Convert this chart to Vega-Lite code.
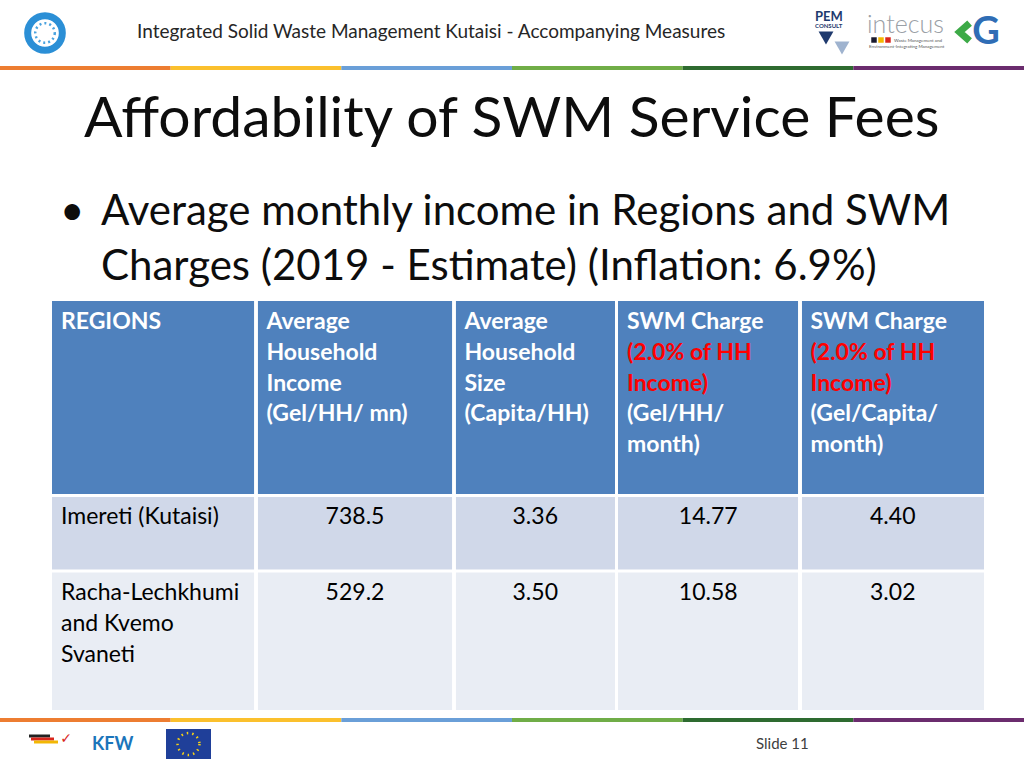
{
  "$schema": "https://vega.github.io/schema/vega-lite/v6.json",
  "width": 1024,
  "height": 768,
  "autosize": {"type": "fit", "contains": "padding"},
  "padding": 0,
  "background": "#ffffff",
  "config": {"view": {"stroke": null}, "text": {"font": "Lato"}},
  "datasets": {
    "header": [
      {"col": 0, "line": 0, "text": "REGIONS", "part": "label"},
      {"col": 1, "line": 0, "text": "Average", "part": "label"},
      {"col": 1, "line": 1, "text": "Household", "part": "label"},
      {"col": 1, "line": 2, "text": "Income", "part": "label"},
      {"col": 1, "line": 3, "text": "(Gel/HH/ mn)", "part": "label"},
      {"col": 2, "line": 0, "text": "Average", "part": "label"},
      {"col": 2, "line": 1, "text": "Household", "part": "label"},
      {"col": 2, "line": 2, "text": "Size", "part": "label"},
      {"col": 2, "line": 3, "text": "(Capita/HH)", "part": "label"},
      {"col": 3, "line": 0, "text": "SWM Charge", "part": "label"},
      {"col": 3, "line": 1, "text": "(2.0% of HH", "part": "rate"},
      {"col": 3, "line": 2, "text": "Income)", "part": "rate"},
      {"col": 3, "line": 3, "text": "(Gel/HH/", "part": "label"},
      {"col": 3, "line": 4, "text": "month)", "part": "label"},
      {"col": 4, "line": 0, "text": "SWM Charge", "part": "label"},
      {"col": 4, "line": 1, "text": "(2.0% of HH", "part": "rate"},
      {"col": 4, "line": 2, "text": "Income)", "part": "rate"},
      {"col": 4, "line": 3, "text": "(Gel/Capita/", "part": "label"},
      {"col": 4, "line": 4, "text": "month)", "part": "label"}
    ],
    "body": [
      {"row": 1, "region": "Imereti (Kutaisi)", "income": 738.5, "size": 3.36, "chargeHH": 14.77, "chargeCap": 4.40},
      {"row": 2, "region": "Racha-Lechkhumi\nand Kvemo\nSvaneti", "income": 529.2, "size": 3.50, "chargeHH": 10.58, "chargeCap": 3.02}
    ],
    "stripes": [{"seg": 1}, {"seg": 2}, {"seg": 3}, {"seg": 4}, {"seg": 5}, {"seg": 6}]
  },
  "resolve": {"scale": {"x": "independent", "y": "independent", "color": "independent", "fill": "independent"}},
  "layer": [
    {
      "data": {"name": "stripes"},
      "layer": [
        {
          "mark": {"type": "bar"},
          "encoding": {
            "x": {"field": "seg", "type": "ordinal", "scale": {"type": "band", "range": [0, 1024], "paddingInner": 0, "paddingOuter": 0}, "axis": null},
            "y": {"datum": 66, "type": "quantitative", "scale": {"type": "linear", "domain": [0, 768], "range": [0, 768], "nice": false, "zero": false}, "axis": null},
            "y2": {"datum": 70},
            "color": {"field": "seg", "type": "ordinal", "scale": {"domain": [1, 2, 3, 4, 5, 6], "range": ["#ED7D31", "#FBC02D", "#6A9FD8", "#70AD47", "#2E6B30", "#6B2C6E"]}, "legend": null}
          }
        },
        {
          "mark": {"type": "bar"},
          "encoding": {
            "x": {"field": "seg", "type": "ordinal", "scale": {"type": "band", "range": [0, 1024], "paddingInner": 0, "paddingOuter": 0}, "axis": null},
            "y": {"datum": 718, "type": "quantitative", "scale": {"type": "linear", "domain": [0, 768], "range": [0, 768], "nice": false, "zero": false}, "axis": null},
            "y2": {"datum": 722},
            "color": {"field": "seg", "type": "ordinal", "scale": {"domain": [1, 2, 3, 4, 5, 6], "range": ["#ED7D31", "#FBC02D", "#6A9FD8", "#70AD47", "#2E6B30", "#6B2C6E"]}, "legend": null}
          }
        }
      ]
    },
    {
      "layer": [
        {
          "data": {"values": [{"t": "Integrated Solid Waste Management Kutaisi - Accompanying Measures"}]},
          "mark": {"type": "text", "align": "left", "baseline": "alphabetic", "fontSize": 19, "color": "#262626"},
          "encoding": {
            "x": {"datum": 137, "type": "quantitative", "scale": {"type": "linear", "domain": [0, 1024], "range": [0, 1024], "nice": false, "zero": false}, "axis": null},
            "y": {"datum": 38, "type": "quantitative", "scale": {"type": "linear", "domain": [0, 768], "range": [0, 768], "nice": false, "zero": false}, "axis": null},
            "text": {"field": "t", "type": "nominal"}
          }
        },
        {
          "data": {"values": [{"t": "Affordability of SWM Service Fees"}]},
          "mark": {"type": "text", "align": "left", "baseline": "alphabetic", "fontSize": 57, "color": "#0d0d0d"},
          "encoding": {
            "x": {"datum": 84, "type": "quantitative", "scale": {"type": "linear", "domain": [0, 1024], "range": [0, 1024], "nice": false, "zero": false}, "axis": null},
            "y": {"datum": 137, "type": "quantitative", "scale": {"type": "linear", "domain": [0, 768], "range": [0, 768], "nice": false, "zero": false}, "axis": null},
            "text": {"field": "t", "type": "nominal"}
          }
        },
        {
          "data": {"values": [{"t": "•"}]},
          "mark": {"type": "text", "align": "left", "baseline": "alphabetic", "fontSize": 42, "color": "#0d0d0d"},
          "encoding": {
            "x": {"datum": 60, "type": "quantitative", "scale": {"type": "linear", "domain": [0, 1024], "range": [0, 1024], "nice": false, "zero": false}, "axis": null},
            "y": {"datum": 225, "type": "quantitative", "scale": {"type": "linear", "domain": [0, 768], "range": [0, 768], "nice": false, "zero": false}, "axis": null},
            "text": {"field": "t", "type": "nominal"}
          }
        },
        {
          "data": {"values": [{"t": "Average monthly income in Regions and SWM"}]},
          "mark": {"type": "text", "align": "left", "baseline": "alphabetic", "fontSize": 42, "color": "#0d0d0d"},
          "encoding": {
            "x": {"datum": 101, "type": "quantitative", "scale": {"type": "linear", "domain": [0, 1024], "range": [0, 1024], "nice": false, "zero": false}, "axis": null},
            "y": {"datum": 225, "type": "quantitative", "scale": {"type": "linear", "domain": [0, 768], "range": [0, 768], "nice": false, "zero": false}, "axis": null},
            "text": {"field": "t", "type": "nominal"}
          }
        },
        {
          "data": {"values": [{"t": "Charges (2019 - Estimate) (Inflation: 6.9%)"}]},
          "mark": {"type": "text", "align": "left", "baseline": "alphabetic", "fontSize": 42, "color": "#0d0d0d"},
          "encoding": {
            "x": {"datum": 101, "type": "quantitative", "scale": {"type": "linear", "domain": [0, 1024], "range": [0, 1024], "nice": false, "zero": false}, "axis": null},
            "y": {"datum": 280, "type": "quantitative", "scale": {"type": "linear", "domain": [0, 768], "range": [0, 768], "nice": false, "zero": false}, "axis": null},
            "text": {"field": "t", "type": "nominal"}
          }
        },
        {
          "data": {"values": [{"t": "Slide 11"}]},
          "mark": {"type": "text", "align": "left", "baseline": "alphabetic", "fontSize": 15, "color": "#404040"},
          "encoding": {
            "x": {"datum": 756, "type": "quantitative", "scale": {"type": "linear", "domain": [0, 1024], "range": [0, 1024], "nice": false, "zero": false}, "axis": null},
            "y": {"datum": 749, "type": "quantitative", "scale": {"type": "linear", "domain": [0, 768], "range": [0, 768], "nice": false, "zero": false}, "axis": null},
            "text": {"field": "t", "type": "nominal"}
          }
        },
        {
          "data": {"values": [{"t": "logo"}]},
          "mark": {"type": "point", "shape": "circle", "filled": false, "size": 1200, "stroke": "#2b8fd6", "strokeWidth": 7, "opacity": 1},
          "encoding": {
            "x": {"datum": 45, "type": "quantitative", "scale": {"type": "linear", "domain": [0, 1024], "range": [0, 1024], "nice": false, "zero": false}, "axis": null},
            "y": {"datum": 33, "type": "quantitative", "scale": {"type": "linear", "domain": [0, 768], "range": [0, 768], "nice": false, "zero": false}, "axis": null}
          }
        },
        {
          "data": {"values": [{"t": "logo"}]},
          "mark": {"type": "point", "shape": "circle", "filled": false, "size": 380, "stroke": "#4aa3df", "strokeWidth": 2.5, "strokeDash": [2, 3], "opacity": 1},
          "encoding": {
            "x": {"datum": 45, "type": "quantitative", "scale": {"type": "linear", "domain": [0, 1024], "range": [0, 1024], "nice": false, "zero": false}, "axis": null},
            "y": {"datum": 33, "type": "quantitative", "scale": {"type": "linear", "domain": [0, 768], "range": [0, 768], "nice": false, "zero": false}, "axis": null}
          }
        },
        {
          "data": {"values": [{"t": "PEM"}]},
          "mark": {"type": "text", "align": "left", "baseline": "alphabetic", "fontSize": 13, "fontWeight": "bold", "color": "#1f3a6e"},
          "encoding": {
            "x": {"datum": 815, "type": "quantitative", "scale": {"type": "linear", "domain": [0, 1024], "range": [0, 1024], "nice": false, "zero": false}, "axis": null},
            "y": {"datum": 21, "type": "quantitative", "scale": {"type": "linear", "domain": [0, 768], "range": [0, 768], "nice": false, "zero": false}, "axis": null},
            "text": {"field": "t", "type": "nominal"}
          }
        },
        {
          "data": {"values": [{"t": "CONSULT"}]},
          "mark": {"type": "text", "align": "left", "baseline": "alphabetic", "fontSize": 6, "fontWeight": "bold", "color": "#1f3a6e"},
          "encoding": {
            "x": {"datum": 815, "type": "quantitative", "scale": {"type": "linear", "domain": [0, 1024], "range": [0, 1024], "nice": false, "zero": false}, "axis": null},
            "y": {"datum": 28, "type": "quantitative", "scale": {"type": "linear", "domain": [0, 768], "range": [0, 768], "nice": false, "zero": false}, "axis": null},
            "text": {"field": "t", "type": "nominal"}
          }
        },
        {
          "data": {"values": [{"t": "a"}]},
          "mark": {"type": "point", "shape": "triangle-down", "filled": true, "size": 220, "color": "#1f3a6e", "opacity": 1},
          "encoding": {
            "x": {"datum": 826, "type": "quantitative", "scale": {"type": "linear", "domain": [0, 1024], "range": [0, 1024], "nice": false, "zero": false}, "axis": null},
            "y": {"datum": 38, "type": "quantitative", "scale": {"type": "linear", "domain": [0, 768], "range": [0, 768], "nice": false, "zero": false}, "axis": null}
          }
        },
        {
          "data": {"values": [{"t": "b"}]},
          "mark": {"type": "point", "shape": "triangle-down", "filled": true, "size": 220, "color": "#9fb3cf", "opacity": 1},
          "encoding": {
            "x": {"datum": 842, "type": "quantitative", "scale": {"type": "linear", "domain": [0, 1024], "range": [0, 1024], "nice": false, "zero": false}, "axis": null},
            "y": {"datum": 48, "type": "quantitative", "scale": {"type": "linear", "domain": [0, 768], "range": [0, 768], "nice": false, "zero": false}, "axis": null}
          }
        },
        {
          "data": {"values": [{"t": "intecus"}]},
          "mark": {"type": "text", "align": "left", "baseline": "alphabetic", "fontSize": 25, "fontWeight": 300, "color": "#9aa0a6"},
          "encoding": {
            "x": {"datum": 867, "type": "quantitative", "scale": {"type": "linear", "domain": [0, 1024], "range": [0, 1024], "nice": false, "zero": false}, "axis": null},
            "y": {"datum": 33, "type": "quantitative", "scale": {"type": "linear", "domain": [0, 768], "range": [0, 768], "nice": false, "zero": false}, "axis": null},
            "text": {"field": "t", "type": "nominal"}
          }
        },
        {
          "data": {"values": [{"t": "k"}]},
          "mark": {"type": "point", "shape": "square", "filled": true, "size": 30, "color": "#1a1a2e", "opacity": 1},
          "encoding": {
            "x": {"datum": 874, "type": "quantitative", "scale": {"type": "linear", "domain": [0, 1024], "range": [0, 1024], "nice": false, "zero": false}, "axis": null},
            "y": {"datum": 40, "type": "quantitative", "scale": {"type": "linear", "domain": [0, 768], "range": [0, 768], "nice": false, "zero": false}, "axis": null}
          }
        },
        {
          "data": {"values": [{"t": "y"}]},
          "mark": {"type": "point", "shape": "square", "filled": true, "size": 30, "color": "#f5b800", "opacity": 1},
          "encoding": {
            "x": {"datum": 881, "type": "quantitative", "scale": {"type": "linear", "domain": [0, 1024], "range": [0, 1024], "nice": false, "zero": false}, "axis": null},
            "y": {"datum": 40, "type": "quantitative", "scale": {"type": "linear", "domain": [0, 768], "range": [0, 768], "nice": false, "zero": false}, "axis": null}
          }
        },
        {
          "data": {"values": [{"t": "r"}]},
          "mark": {"type": "point", "shape": "square", "filled": true, "size": 30, "color": "#d9261c", "opacity": 1},
          "encoding": {
            "x": {"datum": 888, "type": "quantitative", "scale": {"type": "linear", "domain": [0, 1024], "range": [0, 1024], "nice": false, "zero": false}, "axis": null},
            "y": {"datum": 40, "type": "quantitative", "scale": {"type": "linear", "domain": [0, 768], "range": [0, 768], "nice": false, "zero": false}, "axis": null}
          }
        },
        {
          "data": {"values": [{"t": "Waste Management and"}]},
          "mark": {"type": "text", "align": "left", "baseline": "alphabetic", "fontSize": 4.5, "color": "#555555"},
          "encoding": {
            "x": {"datum": 894, "type": "quantitative", "scale": {"type": "linear", "domain": [0, 1024], "range": [0, 1024], "nice": false, "zero": false}, "axis": null},
            "y": {"datum": 42, "type": "quantitative", "scale": {"type": "linear", "domain": [0, 768], "range": [0, 768], "nice": false, "zero": false}, "axis": null},
            "text": {"field": "t", "type": "nominal"}
          }
        },
        {
          "data": {"values": [{"t": "Environment-Integrating Management"}]},
          "mark": {"type": "text", "align": "left", "baseline": "alphabetic", "fontSize": 4.5, "color": "#555555"},
          "encoding": {
            "x": {"datum": 869, "type": "quantitative", "scale": {"type": "linear", "domain": [0, 1024], "range": [0, 1024], "nice": false, "zero": false}, "axis": null},
            "y": {"datum": 48, "type": "quantitative", "scale": {"type": "linear", "domain": [0, 768], "range": [0, 768], "nice": false, "zero": false}, "axis": null},
            "text": {"field": "t", "type": "nominal"}
          }
        },
        {
          "data": {"values": [{"t": "chevron"}]},
          "mark": {"type": "point", "shape": "M 0.5 -0.8 L -0.4 0 L 0.5 0.8", "filled": false, "size": 500, "stroke": "#3daa47", "strokeWidth": 7, "opacity": 1},
          "encoding": {
            "x": {"datum": 964, "type": "quantitative", "scale": {"type": "linear", "domain": [0, 1024], "range": [0, 1024], "nice": false, "zero": false}, "axis": null},
            "y": {"datum": 32, "type": "quantitative", "scale": {"type": "linear", "domain": [0, 768], "range": [0, 768], "nice": false, "zero": false}, "axis": null}
          }
        },
        {
          "data": {"values": [{"t": "G"}]},
          "mark": {"type": "text", "align": "center", "baseline": "middle", "fontSize": 38, "fontWeight": "bold", "color": "#2f6db5"},
          "encoding": {
            "x": {"datum": 986, "type": "quantitative", "scale": {"type": "linear", "domain": [0, 1024], "range": [0, 1024], "nice": false, "zero": false}, "axis": null},
            "y": {"datum": 33, "type": "quantitative", "scale": {"type": "linear", "domain": [0, 768], "range": [0, 768], "nice": false, "zero": false}, "axis": null},
            "text": {"field": "t", "type": "nominal"}
          }
        },
        {
          "data": {"values": [{"t": "KFW"}]},
          "mark": {"type": "text", "align": "left", "baseline": "alphabetic", "fontSize": 18, "fontWeight": "bold", "color": "#1b75bb"},
          "encoding": {
            "x": {"datum": 92, "type": "quantitative", "scale": {"type": "linear", "domain": [0, 1024], "range": [0, 1024], "nice": false, "zero": false}, "axis": null},
            "y": {"datum": 750, "type": "quantitative", "scale": {"type": "linear", "domain": [0, 768], "range": [0, 768], "nice": false, "zero": false}, "axis": null},
            "text": {"field": "t", "type": "nominal"}
          }
        },
        {
          "data": {"values": [{"t": "eu"}]},
          "mark": {"type": "rect", "color": "#1f3f99"},
          "encoding": {
            "x": {"datum": 166, "type": "quantitative", "scale": {"type": "linear", "domain": [0, 1024], "range": [0, 1024], "nice": false, "zero": false}, "axis": null},
            "x2": {"datum": 211},
            "y": {"datum": 729, "type": "quantitative", "scale": {"type": "linear", "domain": [0, 768], "range": [0, 768], "nice": false, "zero": false}, "axis": null},
            "y2": {"datum": 759}
          }
        },
        {
          "data": {"values": [{"t": "stars"}]},
          "mark": {"type": "point", "shape": "circle", "filled": false, "size": 480, "stroke": "#f7d117", "strokeWidth": 2.5, "strokeDash": [1.5, 4], "opacity": 1},
          "encoding": {
            "x": {"datum": 188.5, "type": "quantitative", "scale": {"type": "linear", "domain": [0, 1024], "range": [0, 1024], "nice": false, "zero": false}, "axis": null},
            "y": {"datum": 744, "type": "quantitative", "scale": {"type": "linear", "domain": [0, 768], "range": [0, 768], "nice": false, "zero": false}, "axis": null}
          }
        },
        {
          "data": {"values": [{"t": "de1"}]},
          "mark": {"type": "rule", "color": "#222222", "strokeWidth": 3},
          "encoding": {
            "x": {"datum": 29, "type": "quantitative", "scale": {"type": "linear", "domain": [0, 1024], "range": [0, 1024], "nice": false, "zero": false}, "axis": null},
            "x2": {"datum": 50},
            "y": {"datum": 736, "type": "quantitative", "scale": {"type": "linear", "domain": [0, 768], "range": [0, 768], "nice": false, "zero": false}, "axis": null}
          }
        },
        {
          "data": {"values": [{"t": "de2"}]},
          "mark": {"type": "rule", "color": "#d9261c", "strokeWidth": 3},
          "encoding": {
            "x": {"datum": 31, "type": "quantitative", "scale": {"type": "linear", "domain": [0, 1024], "range": [0, 1024], "nice": false, "zero": false}, "axis": null},
            "x2": {"datum": 54},
            "y": {"datum": 739, "type": "quantitative", "scale": {"type": "linear", "domain": [0, 768], "range": [0, 768], "nice": false, "zero": false}, "axis": null}
          }
        },
        {
          "data": {"values": [{"t": "de3"}]},
          "mark": {"type": "rule", "color": "#f2b705", "strokeWidth": 3},
          "encoding": {
            "x": {"datum": 34, "type": "quantitative", "scale": {"type": "linear", "domain": [0, 1024], "range": [0, 1024], "nice": false, "zero": false}, "axis": null},
            "x2": {"datum": 58},
            "y": {"datum": 742, "type": "quantitative", "scale": {"type": "linear", "domain": [0, 768], "range": [0, 768], "nice": false, "zero": false}, "axis": null}
          }
        },
        {
          "data": {"values": [{"t": "✓"}]},
          "mark": {"type": "text", "align": "center", "baseline": "middle", "fontSize": 14, "fontWeight": "bold", "color": "#d9261c", "font": "DejaVu Sans"},
          "encoding": {
            "x": {"datum": 66, "type": "quantitative", "scale": {"type": "linear", "domain": [0, 1024], "range": [0, 1024], "nice": false, "zero": false}, "axis": null},
            "y": {"datum": 739, "type": "quantitative", "scale": {"type": "linear", "domain": [0, 768], "range": [0, 768], "nice": false, "zero": false}, "axis": null},
            "text": {"field": "t", "type": "nominal"}
          }
        }
      ]
    },
    {
      "layer": [
        {
          "data": {"name": "header"},
          "mark": {"type": "rect", "fill": "#4f81bd", "stroke": "#ffffff", "strokeWidth": 3},
          "encoding": {
            "x": {"datum": 0, "type": "quantitative", "scale": {"type": "linear", "domain": [0, 1, 2, 3, 4, 5], "range": [50.5, 256, 454, 616.5, 800, 985.5], "nice": false, "zero": false}, "axis": null},
            "x2": {"datum": 5},
            "y": {"datum": 0, "type": "quantitative", "scale": {"type": "linear", "domain": [0, 1, 2, 3], "range": [299.5, 495.5, 571, 711.5], "nice": false, "zero": false}, "axis": null},
            "y2": {"datum": 1}
          }
        },
        {
          "data": {"name": "body"},
          "mark": {"type": "rect", "stroke": "#ffffff", "strokeWidth": 3},
          "encoding": {
            "x": {"datum": 0, "type": "quantitative", "scale": {"type": "linear", "domain": [0, 1, 2, 3, 4, 5], "range": [50.5, 256, 454, 616.5, 800, 985.5], "nice": false, "zero": false}, "axis": null},
            "x2": {"datum": 5},
            "y": {"field": "row", "type": "quantitative", "scale": {"type": "linear", "domain": [0, 1, 2, 3], "range": [299.5, 495.5, 571, 711.5], "nice": false, "zero": false}, "axis": null},
            "y2": {"datum": 3},
            "fill": {"field": "row", "type": "ordinal", "scale": {"domain": [1, 2], "range": ["#d0d8e9", "#e9edf4"]}, "legend": null}
          }
        },
        {
          "data": {"name": "header"},
          "transform": [{"filter": "datum.col > 0"}],
          "mark": {"type": "rule", "color": "#ffffff", "strokeWidth": 3},
          "encoding": {
            "x": {"field": "col", "type": "quantitative", "scale": {"type": "linear", "domain": [0, 1, 2, 3, 4, 5], "range": [50.5, 256, 454, 616.5, 800, 985.5], "nice": false, "zero": false}, "axis": null},
            "y": {"datum": 0, "type": "quantitative", "scale": {"type": "linear", "domain": [0, 1, 2, 3], "range": [299.5, 495.5, 571, 711.5], "nice": false, "zero": false}, "axis": null},
            "y2": {"datum": 3}
          }
        },
        {
          "data": {"name": "body"},
          "mark": {"type": "text", "align": "left", "baseline": "top", "dx": 10.5, "dy": 10.5, "fontSize": 23, "lineHeight": 31, "lineBreak": "\n", "color": "#000000"},
          "encoding": {
            "x": {"datum": 0, "type": "quantitative", "scale": {"type": "linear", "domain": [0, 1, 2, 3, 4, 5], "range": [50.5, 256, 454, 616.5, 800, 985.5], "nice": false, "zero": false}, "axis": null},
            "y": {"field": "row", "type": "quantitative", "scale": {"type": "linear", "domain": [0, 1, 2, 3], "range": [299.5, 495.5, 571, 711.5], "nice": false, "zero": false}, "axis": null},
            "text": {"field": "region", "type": "nominal"}
          }
        },
        {
          "data": {"name": "body"},
          "mark": {"type": "text", "align": "center", "baseline": "top", "dy": 10.5, "fontSize": 23, "color": "#000000"},
          "encoding": {
            "x": {"datum": 1.5, "type": "quantitative", "scale": {"type": "linear", "domain": [0, 1, 2, 3, 4, 5], "range": [50.5, 256, 454, 616.5, 800, 985.5], "nice": false, "zero": false}, "axis": null},
            "y": {"field": "row", "type": "quantitative", "scale": {"type": "linear", "domain": [0, 1, 2, 3], "range": [299.5, 495.5, 571, 711.5], "nice": false, "zero": false}, "axis": null},
            "text": {"field": "income", "type": "quantitative", "format": ".1f"}
          }
        },
        {
          "data": {"name": "body"},
          "mark": {"type": "text", "align": "center", "baseline": "top", "dy": 10.5, "fontSize": 23, "color": "#000000"},
          "encoding": {
            "x": {"datum": 2.5, "type": "quantitative", "scale": {"type": "linear", "domain": [0, 1, 2, 3, 4, 5], "range": [50.5, 256, 454, 616.5, 800, 985.5], "nice": false, "zero": false}, "axis": null},
            "y": {"field": "row", "type": "quantitative", "scale": {"type": "linear", "domain": [0, 1, 2, 3], "range": [299.5, 495.5, 571, 711.5], "nice": false, "zero": false}, "axis": null},
            "text": {"field": "size", "type": "quantitative", "format": ".2f"}
          }
        },
        {
          "data": {"name": "body"},
          "mark": {"type": "text", "align": "center", "baseline": "top", "dy": 10.5, "fontSize": 23, "color": "#000000"},
          "encoding": {
            "x": {"datum": 3.5, "type": "quantitative", "scale": {"type": "linear", "domain": [0, 1, 2, 3, 4, 5], "range": [50.5, 256, 454, 616.5, 800, 985.5], "nice": false, "zero": false}, "axis": null},
            "y": {"field": "row", "type": "quantitative", "scale": {"type": "linear", "domain": [0, 1, 2, 3], "range": [299.5, 495.5, 571, 711.5], "nice": false, "zero": false}, "axis": null},
            "text": {"field": "chargeHH", "type": "quantitative", "format": ".2f"}
          }
        },
        {
          "data": {"name": "body"},
          "mark": {"type": "text", "align": "center", "baseline": "top", "dy": 10.5, "fontSize": 23, "color": "#000000"},
          "encoding": {
            "x": {"datum": 4.5, "type": "quantitative", "scale": {"type": "linear", "domain": [0, 1, 2, 3, 4, 5], "range": [50.5, 256, 454, 616.5, 800, 985.5], "nice": false, "zero": false}, "axis": null},
            "y": {"field": "row", "type": "quantitative", "scale": {"type": "linear", "domain": [0, 1, 2, 3], "range": [299.5, 495.5, 571, 711.5], "nice": false, "zero": false}, "axis": null},
            "text": {"field": "chargeCap", "type": "quantitative", "format": ".2f"}
          }
        }
      ]
    },
    {
      "data": {"name": "header"},
      "mark": {"type": "text", "align": "left", "baseline": "middle", "dx": 10.5, "fontSize": 23, "fontWeight": "bold"},
      "encoding": {
        "x": {"field": "col", "type": "quantitative", "scale": {"type": "linear", "domain": [0, 1, 2, 3, 4, 5], "range": [50.5, 256, 454, 616.5, 800, 985.5], "nice": false, "zero": false}, "axis": null},
        "y": {"field": "line", "type": "quantitative", "scale": {"type": "linear", "domain": [0, 4], "range": [322, 445], "nice": false, "zero": false}, "axis": null},
        "text": {"field": "text", "type": "nominal"},
        "color": {"field": "part", "type": "nominal", "scale": {"domain": ["label", "rate"], "range": ["#ffffff", "#ff0000"]}, "legend": null}
      }
    }
  ]
}
